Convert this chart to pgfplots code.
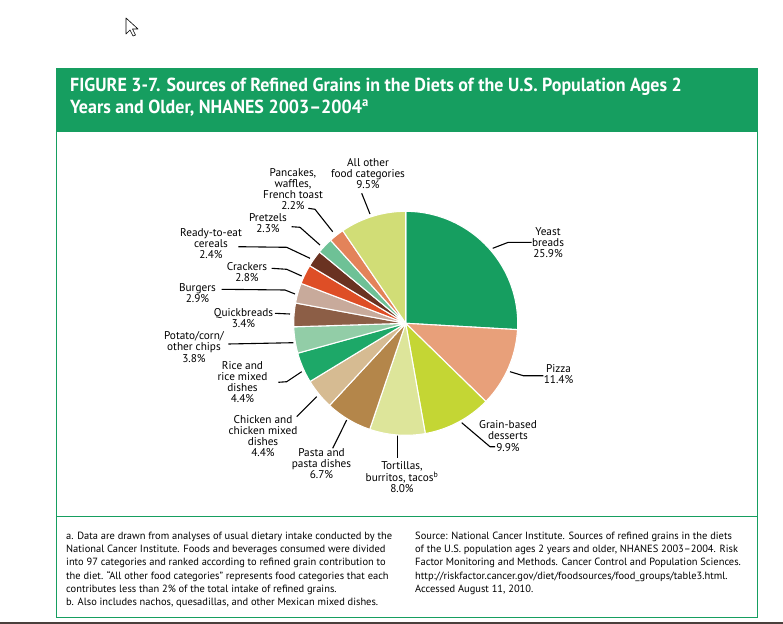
\documentclass[border=0pt]{standalone}
\usepackage{pgfplots}
\pgfplotsset{compat=1.18}
\usepackage{pgfplotstable}
\usepackage{fontspec}
\setmainfont{PT Sans}
\newfontfamily\hdrfont[FakeStretch=0.95]{PT Sans}
\newfontfamily\notefont[FakeStretch=1.0]{PT Sans}

\definecolor{hdrgreen}{RGB}{22,158,96}
\definecolor{c1}{RGB}{22,158,96}    % yeast breads
\definecolor{c2}{RGB}{232,160,122}  % pizza
\definecolor{c3}{RGB}{196,214,52}   % desserts
\definecolor{c4}{RGB}{221,229,154}  % tortillas
\definecolor{c5}{RGB}{180,134,74}   % pasta
\definecolor{c6}{RGB}{214,187,146}  % chicken
\definecolor{c7}{RGB}{29,168,104}   % rice
\definecolor{c8}{RGB}{146,205,167}  % chips
\definecolor{c9}{RGB}{140,94,70}    % quickbreads
\definecolor{c10}{RGB}{200,170,155} % burgers
\definecolor{c11}{RGB}{222,78,38}   % crackers
\definecolor{c12}{RGB}{106,50,33}   % cereals
\definecolor{c13}{RGB}{110,193,150} % pretzels
\definecolor{c14}{RGB}{227,131,90}  % pancakes
\definecolor{c15}{RGB}{209,221,118} % all other
\definecolor{bottomline}{RGB}{74,64,60}

\pgfdeclareplotmark{blank}{}

% share of refined grain intake, %; x,y = pie centre in pixel units
\pgfplotstableread[col sep=comma]{
x,y,value,idx
405.7,323.3,25.9,1
405.7,323.3,11.4,2
405.7,323.3,9.9,3
405.7,323.3,8.0,4
405.7,323.3,6.7,5
405.7,323.3,4.4,6
405.7,323.3,4.4,7
405.7,323.3,3.8,8
405.7,323.3,3.4,9
405.7,323.3,2.9,10
405.7,323.3,2.8,11
405.7,323.3,2.4,12
405.7,323.3,2.3,13
405.7,323.3,2.2,14
405.7,323.3,9.5,15
}\slices
\pgfplotstablecreatecol[create col/expr accum={\pgfmathaccuma+\thisrow{value}}{0}]{cum}\slices

\newcommand\lbl{\fontsize{11.3}{11.1}\selectfont}

\begin{document}
\begin{tikzpicture}
\begin{axis}[
  name=a,
  width=783bp, height=624bp, scale only axis,
  xmin=0, xmax=783, ymin=0, ymax=624, y dir=reverse,
  hide axis, clip=false,
]
% frame and header
\fill[hdrgreen] (axis cs:56,68) rectangle (axis cs:758,131);
\draw[hdrgreen, line width=1pt] (axis cs:56.5,131) rectangle (axis cs:757.5,617.5);
\draw[hdrgreen, line width=1pt] (axis cs:56.5,516.5) -- (axis cs:757.5,516.5);
\fill[bottomline] (axis cs:0,621.5) rectangle (axis cs:783,624);
\node[anchor=north west, inner sep=0, align=left, text=white,
  font=\hdrfont\bfseries\fontsize{19}{21.5}\selectfont] at (axis cs:70,78)
  {FIGURE 3-7. Sources of Refined Grains in the Diets of the U.S. Population Ages 2\\
   Years and Older, NHANES 2003–2004\textsuperscript{a}};

% cursor
\filldraw[fill=white, draw=black, line width=0.6pt, line join=round]
  (axis cs:126,18) -- (axis cs:126,34) -- (axis cs:130,30) -- (axis cs:133,36)
  -- (axis cs:135.5,35) -- (axis cs:132.5,29) -- (axis cs:138,29) -- cycle;

% pie
\addplot[only marks, mark=blank, scatter, point meta=\thisrow{value},
  visualization depends on={\thisrow{value} \as \val},
  visualization depends on={\thisrow{cum} \as \cumv},
  visualization depends on={\thisrow{idx} \as \idxv},
  scatter/@pre marker code/.code={%
    \pgfmathsetmacro\angA{90-3.6*(\cumv-\val)}%
    \pgfmathsetmacro\angB{90-3.6*\cumv}%
    \pgfmathtruncatemacro\ci{\idxv}%
    \fill[c\ci, draw=white, line width=1.1pt, line join=round]
      (0,0) -- (\angA:112bp) arc[start angle=\angA, end angle=\angB, radius=112bp] -- cycle;
  },
  scatter/@post marker code/.code={},
] table[x=x, y=y] {\slices};

% leader lines
\begin{scope}[line width=1.1pt]
\draw (axis cs:492.7,248.3) -- (axis cs:508.3,242.3) -- (axis cs:531.7,242.3);
\draw (axis cs:510,371.7) -- (axis cs:523.3,375.7) -- (axis cs:543.3,375.7);
\draw (axis cs:461.7,422.7) -- (axis cs:490,446.7) -- (axis cs:495,446.7);
\draw (axis cs:397.3,428.3) -- (axis cs:397.3,458.3);
\draw (axis cs:346.7,420) -- (axis cs:332.7,448.3);
\draw (axis cs:316.7,396.7) -- (axis cs:296.7,416.7);
\draw (axis cs:278.3,382.3) -- (axis cs:286.7,381.7) -- (axis cs:301.7,371.7);
\draw (axis cs:228.3,344) -- (axis cs:293.3,342.7);
\draw (axis cs:275,313.3) -- (axis cs:290,314);
\draw (axis cs:221.7,289.3) -- (axis cs:285,290) -- (axis cs:295,294);
\draw (axis cs:271.7,268.3) -- (axis cs:286.7,269.3) -- (axis cs:301.7,276);
\draw (axis cs:238.3,246.7) -- (axis cs:286.7,247.3) -- (axis cs:310,258.3);
\draw (axis cs:291.7,226.7) -- (axis cs:300,227.3) -- (axis cs:320,245);
\draw (axis cs:308.3,208.3) -- (axis cs:315,209.3) -- (axis cs:332.7,231.7);
\draw (axis cs:361.7,193.3) -- (axis cs:370,214);
\end{scope}

% slice labels
\begin{scope}[every node/.style={align=center, inner sep=0, font=\lbl}]
\node at (axis cs:548,243) {Yeast\\breads\\25.9\%};
\node at (axis cs:558.5,374) {Pizza\\11.4\%};
\node at (axis cs:508,436) {Grain-based\\desserts\\9.9\%};
\node at (axis cs:402,477) {Tortillas,\\burritos, tacos\textsuperscript{b}\\8.0\%};
\node at (axis cs:321.5,463.5) {Pasta and\\pasta dishes\\6.7\%};
\node at (axis cs:263,436) {Chicken and\\chicken mixed\\dishes\\4.4\%};
\node at (axis cs:242.5,382) {Rice and\\rice mixed\\dishes\\4.4\%};
\node at (axis cs:194,347) {Potato/corn/\\other chips\\3.8\%};
\node at (axis cs:243.5,318) {Quickbreads\\3.4\%};
\node at (axis cs:197.5,293.5) {Burgers\\2.9\%};
\node at (axis cs:247,272.5) {Crackers\\2.8\%};
\node at (axis cs:211,244) {Ready-to-eat\\cereals\\2.4\%};
\node at (axis cs:268,223.5) {Pretzels\\2.3\%};
\node at (axis cs:293,189) {Pancakes,\\waffles,\\French toast\\2.2\%};
\node at (axis cs:368,173.5) {All other\\food categories\\9.5\%};
\end{scope}

% notes
\begin{scope}[every node/.style={anchor=north west, align=left, inner sep=0,
    font=\notefont\fontsize{10.5}{13.2}\selectfont}]
\node at (axis cs:66,532) {a. Data are drawn from analyses of usual dietary intake conducted by the\\
National Cancer Institute. Foods and beverages consumed were divided\\
into 97 categories and ranked according to refined grain contribution to\\
the diet. “All other food categories” represents food categories that each\\
contributes less than 2\% of the total intake of refined grains.\\
b. Also includes nachos, quesadillas, and other Mexican mixed dishes.};
\node at (axis cs:415,532) {Source: National Cancer Institute. Sources of refined grains in the diets\\
of the U.S. population ages 2 years and older, NHANES 2003–2004. Risk\\
Factor Monitoring and Methods. Cancer Control and Population Sciences.\\
http://riskfactor.cancer.gov/diet/foodsources/food\_groups/table3.html.\\
Accessed August 11, 2010.};
\end{scope}
\end{axis}
\pgfresetboundingbox
\path (a.south west) rectangle (a.north east);
\end{tikzpicture}
\end{document}
